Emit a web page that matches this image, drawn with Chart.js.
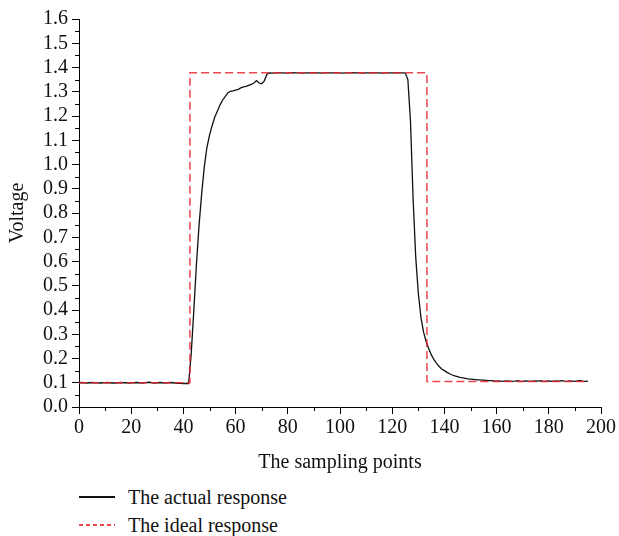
<!DOCTYPE html>
<html>
<head>
<meta charset="utf-8">
<script src="https://cdn.jsdelivr.net/npm/chart.js@4/dist/chart.umd.min.js"></script>
<style>
    html, body { margin: 0; padding: 0; background: #fff; }
    #wrap { position: relative; width: 619px; height: 536px; }
    #chart-box { position: absolute; left: 0; top: 0; width: 619px; height: 479px; }
    .legend { position: absolute; left: 79px; font-family: "Liberation Serif", "DejaVu Serif", serif; font-size: 20px; color: #111; }
    .legend .row { position: absolute; left: 0; white-space: nowrap; height: 24px; line-height: 24px; }
    .legend .swatch { position: absolute; left: 0; top: 11px; width: 36px; height: 1.5px; }
    .legend .txt { position: absolute; left: 49px; top: 0; }
</style>
</head>
<body>
<div id="wrap">
    <div id="chart-box"><canvas id="responseChart" width="619" height="479"></canvas></div>
    <div class="legend" id="legend"></div>
</div>

<script>
// sampling points 0..195
const actualValues = [
    0.100,0.101,0.100,0.099,0.100,0.101,0.100,0.100,0.099,0.100,
    0.100,0.101,0.100,0.099,0.099,0.100,0.101,0.100,0.100,0.099,
    0.100,0.100,0.101,0.100,0.099,0.100,0.101,0.102,0.100,0.099,
    0.100,0.101,0.100,0.099,0.100,0.101,0.100,0.099,0.098,0.098,
    0.097,0.097,0.097,0.220,0.400,0.590,0.750,0.880,0.990,1.070,
    1.120,1.160,1.195,1.220,1.245,1.265,1.280,1.295,1.302,1.304,
    1.307,1.310,1.316,1.320,1.322,1.326,1.330,1.336,1.346,1.336,
    1.333,1.345,1.372,1.378,1.377,1.378,1.379,1.378,1.378,1.377,
    1.378,1.378,1.379,1.378,1.378,1.378,1.377,1.378,1.378,1.378,
    1.379,1.378,1.378,1.377,1.378,1.378,1.378,1.378,1.379,1.378,
    1.378,1.377,1.378,1.378,1.378,1.379,1.378,1.378,1.378,1.377,
    1.378,1.378,1.378,1.379,1.378,1.378,1.377,1.378,1.378,1.378,
    1.378,1.379,1.378,1.378,1.378,1.377,1.350,1.180,0.860,0.620,
    0.470,0.370,0.310,0.270,0.240,0.215,0.195,0.180,0.167,0.157,
    0.150,0.143,0.137,0.132,0.128,0.125,0.122,0.120,0.118,0.116,
    0.115,0.114,0.113,0.112,0.111,0.111,0.110,0.109,0.109,0.108,
    0.107,0.108,0.106,0.107,0.108,0.107,0.106,0.107,0.109,0.107,
    0.106,0.108,0.107,0.106,0.107,0.108,0.107,0.109,0.106,0.107,
    0.108,0.106,0.107,0.108,0.107,0.109,0.107,0.106,0.108,0.107,
    0.106,0.108,0.109,0.107,0.106,0.107
];

// ideal step response (corner points)
const idealX = [0, 42.5, 42.5, 133.3, 133.3, 195];
const idealY = [0.100, 0.100, 1.378, 1.378, 0.105, 0.105];

const seriesNames = ['The actual response', 'The ideal response'];
const xTickLabels = [0, 20, 40, 60, 80, 100, 120, 140, 160, 180, 200];
const yTickLabels = ['0.0','0.1','0.2','0.3','0.4','0.5','0.6','0.7','0.8','0.9','1.0','1.1','1.2','1.3','1.4','1.5','1.6'];

const FONT = '"Liberation Serif", "DejaVu Serif", serif';
const RED = 'rgba(232, 38, 48, 0.85)';

// short minor ticks halfway between the major ones
const minorTicks = {
    id: 'minorTicks',
    afterDraw(chart) {
        const ctx = chart.ctx;
        const xs = chart.scales.x;
        const ys = chart.scales.y;
        ctx.save();
        ctx.strokeStyle = '#000';
        ctx.lineWidth = 1;
        ctx.beginPath();
        for (let i = 0; i < xTickLabels.length - 1; i++) {
            const v = (xTickLabels[i] + xTickLabels[i + 1]) / 2;
            const px = Math.round(xs.getPixelForValue(v)) + 0.5;
            ctx.moveTo(px, xs.top);
            ctx.lineTo(px, xs.top + 4);
        }
        for (let i = 0; i < yTickLabels.length - 1; i++) {
            const v = (parseFloat(yTickLabels[i]) + parseFloat(yTickLabels[i + 1])) / 2;
            const py = Math.round(ys.getPixelForValue(v)) + 0.5;
            ctx.moveTo(ys.right - 4, py);
            ctx.lineTo(ys.right, py);
        }
        ctx.stroke();
        ctx.restore();
    }
};

const ctx = document.getElementById('responseChart');

new Chart(ctx.getContext('2d'), {
    type: 'line',
    data: {
        datasets: [
            {
                label: seriesNames[1],
                data: idealX.map((x, i) => ({ x: x, y: idealY[i] })),
                borderColor: RED,
                borderWidth: 1.5,
                borderDash: [8, 4],
                pointRadius: 0,
                tension: 0,
                fill: false
            },
            {
                label: seriesNames[0],
                data: actualValues.map((v, i) => ({ x: i, y: v })),
                borderColor: '#111',
                borderWidth: 1.3,
                pointRadius: 0,
                tension: 0,
                fill: false
            }
        ]
    },
    options: {
        responsive: false,
        animation: false,
        layout: { padding: { top: 19, right: 18, left: 0, bottom: 0 } },
        plugins: {
            legend: { display: false },
            tooltip: { enabled: false }
        },
        scales: {
            x: {
                type: 'linear',
                min: 0,
                max: 200,
                afterFit: (scale) => { scale.height = 72; },
                afterBuildTicks: (scale) => { scale.ticks = xTickLabels.map(v => ({ value: v })); },
                grid: { display: true, drawOnChartArea: false, drawTicks: true, tickLength: 7, color: '#000' },
                border: { display: true, color: '#000', width: 1 },
                ticks: {
                    color: '#111',
                    font: { family: FONT, size: 20 },
                    padding: 2,
                    maxRotation: 0,
                    autoSkip: false,
                    callback: (v) => String(v)
                },
                title: {
                    display: true,
                    text: 'The sampling points',
                    color: '#111',
                    font: { family: FONT, size: 20 },
                    padding: { top: 4, bottom: 4 }
                }
            },
            y: {
                type: 'linear',
                min: 0,
                max: 1.6,
                afterFit: (scale) => { scale.width = 79; },
                afterBuildTicks: (scale) => { scale.ticks = yTickLabels.map(v => ({ value: parseFloat(v) })); },
                grid: { display: true, drawOnChartArea: false, drawTicks: true, tickLength: 7, color: '#000' },
                border: { display: true, color: '#000', width: 1 },
                ticks: {
                    color: '#111',
                    font: { family: FONT, size: 20 },
                    padding: 4,
                    autoSkip: false,
                    callback: (v) => v.toFixed(1)
                },
                title: {
                    display: true,
                    text: 'Voltage',
                    color: '#111',
                    font: { family: FONT, size: 20 },
                    padding: { top: 6, bottom: 4 }
                }
            }
        }
    },
    plugins: [minorTicks]
});

// legend below the plot, one entry per row
const legendStyles = [
    { top: 485, line: 'background:#111' },
    { top: 513, line: 'background:repeating-linear-gradient(to right,' + RED + ' 0 4px, transparent 4px 7px)' }
];
const legendEl = document.getElementById('legend');
seriesNames.forEach((name, i) => {
    const row = document.createElement('div');
    row.className = 'row';
    row.style.top = legendStyles[i].top + 'px';
    row.innerHTML = `<span class="swatch" style="${legendStyles[i].line}"></span><span class="txt">${name}</span>`;
    legendEl.appendChild(row);
});
</script>
</body>
</html>
